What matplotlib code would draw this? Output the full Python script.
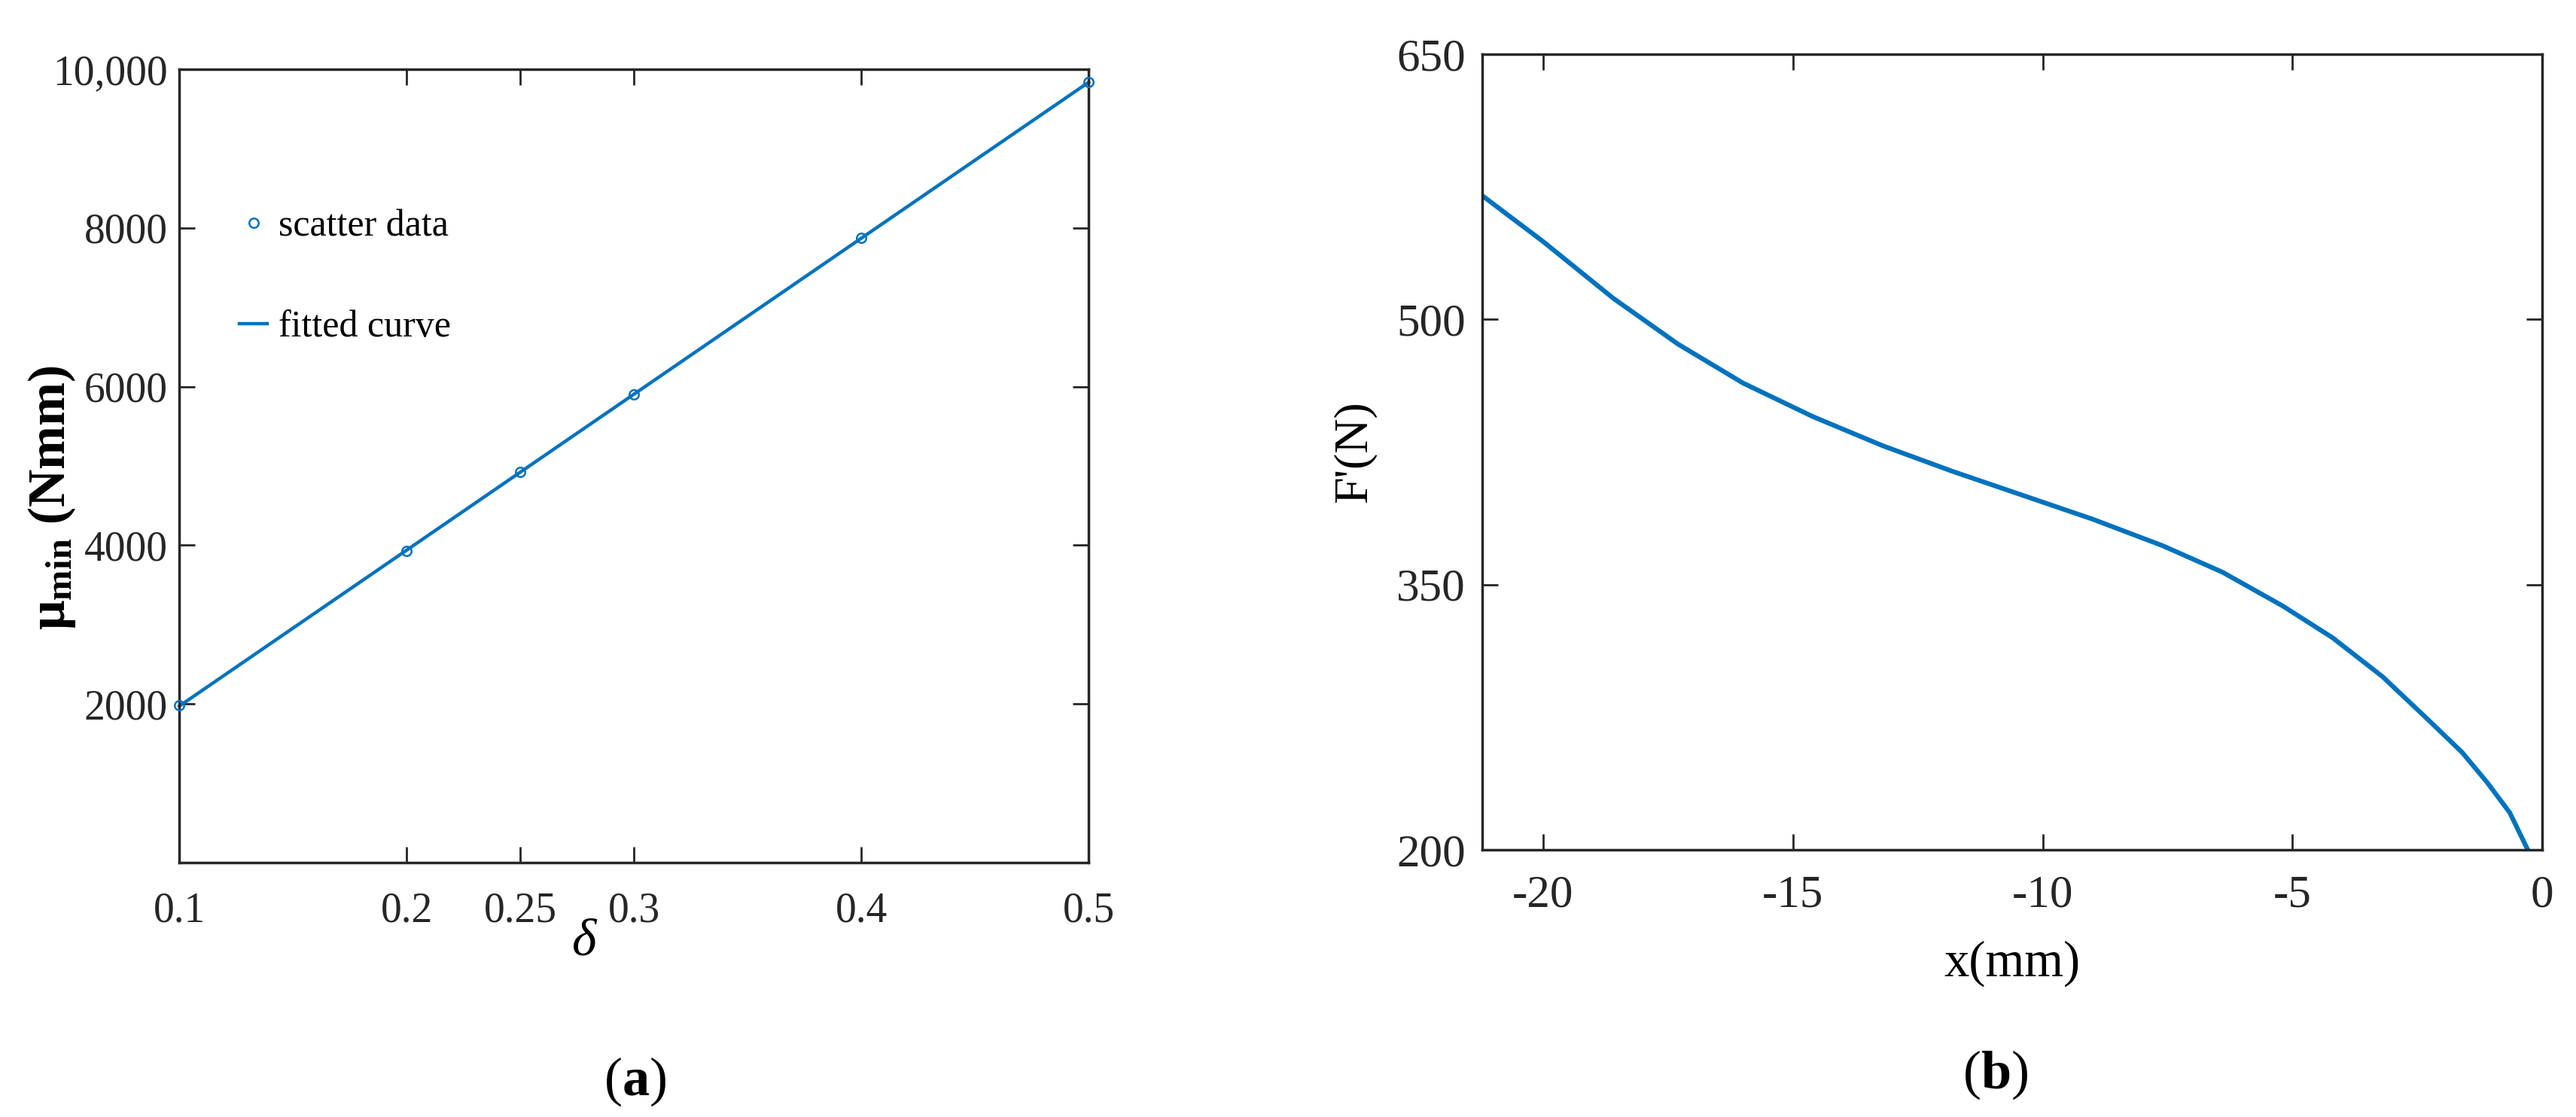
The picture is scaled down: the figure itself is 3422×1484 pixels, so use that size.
import matplotlib
matplotlib.use('Agg')
import matplotlib.pyplot as plt
import numpy as np

plt.rcParams['font.family'] = ['Liberation Serif', 'DejaVu Serif']
plt.rcParams['mathtext.fontset'] = 'custom'
plt.rcParams['mathtext.rm'] = 'Liberation Serif'
plt.rcParams['mathtext.it'] = 'Liberation Serif:italic'
plt.rcParams['mathtext.bf'] = 'Liberation Serif:bold'
plt.rcParams['axes.unicode_minus'] = False

# (a) minimum torque vs delta
delta = [0.1, 0.2, 0.25, 0.3, 0.4, 0.5]
mu_min = [1980, 3930, 4920, 5900, 7870, 9840]
a_xticks = [0.1, 0.2, 0.25, 0.3, 0.4, 0.5]
a_xticklabels = ['0.1', '0.2', '0.25', '0.3', '0.4', '0.5']
a_yticks = [2000, 4000, 6000, 8000, 10000]
a_yticklabels = ['2000', '4000', '6000', '8000', '10,000']

# (b) force vs displacement
x_mm = [-21.22, -20.0, -18.6, -17.3, -16.0, -14.6, -13.2, -11.8, -10.4,
        -9.0, -7.6, -6.4, -5.2, -4.2, -3.2, -2.3, -1.6, -1.1, -0.65, -0.29]
F_N = [570.0, 544.0, 512.0, 486.0, 464.0, 445.0, 428.5, 414.0, 400.5,
       387.0, 372.0, 357.0, 338.0, 320.0, 298.0, 274.0, 255.0, 238.0, 221.0, 200.0]
b_xticks = [-20, -15, -10, -5, 0]
b_yticks = [200, 350, 500, 650]

BLUE = '#0072BD'
DARK = '#262626'

fig = plt.figure(figsize=(34.22, 14.84), dpi=100)


def style_axes(ax, xpad, ypad, fs):
    for s in ax.spines.values():
        s.set_linewidth(2.5)
        s.set_color(DARK)
    ax.tick_params(direction='in', top=True, right=True, length=15, width=2,
                   color=DARK, labelcolor=DARK, labelsize=fs)
    ax.tick_params(axis='x', pad=xpad)
    ax.tick_params(axis='y', pad=ypad)


# ---- left panel ----
ax1 = fig.add_axes([0.0696, 0.2278, 0.3530, 0.7102])
coef = np.polyfit(delta, mu_min, 1)
xfit = np.array([delta[0], delta[-1]])
ax1.plot(delta, mu_min, 'o', ms=9, mfc='none', mec=BLUE, mew=1.8,
         label='scatter data', clip_on=False, zorder=3)
ax1.plot(xfit, np.polyval(coef, xfit), '-', color=BLUE, lw=3.2,
         label='fitted curve', clip_on=False)
ax1.set_xlim(0.1, 0.5)
ax1.set_ylim(0, 10000)
ax1.set_xticks(a_xticks)
ax1.set_xticklabels(a_xticklabels)
ax1.set_yticks(a_yticks)
ax1.set_yticklabels(a_yticklabels)
style_axes(ax1, 28, 11, 40)
ax1.set_xlabel(r'$\delta$', fontsize=50, va='center')
ax1.xaxis.set_label_coords(0.446, -0.10)
ax1.set_ylabel(r'μ$_{\mathbf{min}}$ (Nmm)', fontsize=50, fontweight='bold',
               va='center')
ax1.yaxis.set_label_coords(-0.14, 0.46)
ax1.legend(loc='center left', bbox_to_anchor=(0.066, 0.738), frameon=False,
           fontsize=36, borderpad=0, borderaxespad=0, handlelength=0.75,
           handletextpad=0.3, labelspacing=1.75, numpoints=1)

# ---- right panel ----
ax2 = fig.add_axes([0.5754, 0.2392, 0.4115, 0.7123])
ax2.plot(x_mm, F_N, '-', color=BLUE, lw=4.5, solid_joinstyle='round')
ax2.set_xlim(-21.22, 0)
ax2.set_ylim(200, 650)
ax2.set_xticks(b_xticks)
ax2.set_yticks(b_yticks)
style_axes(ax2, 24, 16, 44)
ax2.set_xlabel('x(mm)', fontsize=48, va='center')
ax2.xaxis.set_label_coords(0.5, -0.143)
ax2.set_ylabel("F'(N)", fontsize=46, va='center')
ax2.yaxis.set_label_coords(-0.12, 0.5)

fig.text(0.2466, 0.0317, r'(${\bf a}$)', fontsize=52, ha='center', va='center')
fig.text(0.7747, 0.0377, r'(${\bf b}$)', fontsize=52, ha='center', va='center')

fig.savefig('out.png', dpi=100)
